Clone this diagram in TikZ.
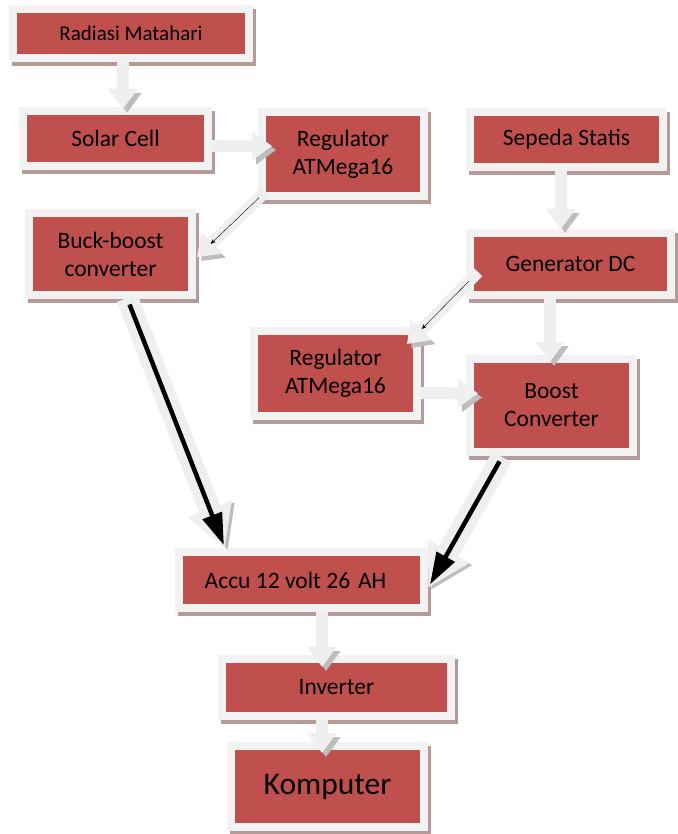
\documentclass[tikz,border=0pt]{standalone}
\usepackage{fontspec}
\setmainfont{Carlito}
\usetikzlibrary{arrows.meta,calc}

\definecolor{boxred}{HTML}{C0504D}
\definecolor{boxframe}{HTML}{F2F2F2}
\definecolor{boxshadow}{HTML}{B59A9A}
\definecolor{arrowlight}{HTML}{EFEFEF}
\definecolor{arrowshade}{HTML}{BDBDBD}

\begin{document}
\begin{tikzpicture}[x=1pt,y=-1pt]
\tikzset{
  blockbox/.style={rectangle,fill=boxred,draw=boxframe,line width=8pt,outer sep=0pt,inner sep=2pt,
    align=center,font=\fontsize{23.5}{28}\selectfont,
    preaction={draw=boxshadow,fill=boxshadow,transform canvas={shift={(3pt,-4pt)}}}},
  blockarrow/.style={draw=arrowlight,line width=12pt,-{Triangle[length=20pt,width=28pt]},
    preaction={draw=arrowshade,-{Triangle[length=20pt,width=28pt]},transform canvas={shift={(4pt,-4pt)}}}},
  hollowarrow/.style={draw=arrowlight,line width=22pt,-{Triangle[length=42pt,width=44pt]},
    preaction={draw=arrowshade,-{Triangle[length=42pt,width=44pt]},transform canvas={shift={(3pt,-2pt)}}}},
  powerarrow/.style={draw=black,line width=4.5pt,-{Triangle[length=32pt,width=20pt]}},
  thinarrow/.style={draw=black,line width=0.4pt,-{Stealth[length=5pt,width=4pt]}}
}
\useasboundingbox (0,0) rectangle (677,834);
% blocks
\node[blockbox,minimum width=236pt,minimum height=49pt,font=\fontsize{21}{25}\selectfont] (n_rad) at (131,33.5) {Radiasi Matahari};
\node[blockbox,minimum width=185pt,minimum height=55pt] (n_solar) at (115.5,138.5) {Solar Cell};
\node[blockbox,minimum width=162pt,minimum height=84pt] (n_regA) at (343,154) {Regulator\\ATMega16};
\node[blockbox,minimum width=193pt,minimum height=55pt] (n_sepeda) at (566.5,139.5) {Sepeda Statis};
\node[blockbox,minimum width=163pt,minimum height=82pt] (n_buck) at (110.5,254) {Buck-boost\\converter};
\node[blockbox,minimum width=201pt,minimum height=62pt] (n_gen) at (570.5,264) {Generator DC};
\node[blockbox,minimum width=163pt,minimum height=85pt] (n_regB) at (335.5,373.5) {Regulator\\ATMega16};
\node[blockbox,minimum width=163pt,minimum height=93pt] (n_boost) at (551.5,405.5) {Boost\\Converter};
\node[blockbox,minimum width=245pt,minimum height=56pt] (n_accu) at (301.5,580) {Accu 12 volt 26\,\,AH\hspace*{12pt}};
\node[blockbox,minimum width=229pt,minimum height=57pt] (n_inv) at (336.5,687.5) {Inverter};
\node[blockbox,minimum width=193pt,minimum height=81pt,font=\fontsize{31.5}{38}\selectfont] (n_komp) at (327.5,786.5) {Komputer};
% block arrows
\draw[blockarrow] ($(n_rad.south)+(-8,4)$) -- ($(n_solar.north)+(7.5,-2)$);
\draw[blockarrow] ($(n_solar.east)+(4,7.5)$) -- ($(n_regA.west)+(10,-8)$);
\draw[blockarrow] ($(n_regA.south west)+(2,-3)$) -- ($(n_buck.east)+(5,3)$);
\draw[thinarrow,shorten <=7pt,shorten >=19pt] ($(n_regA.south west)+(2,-3)$) -- ($(n_buck.east)+(5,3)$);
\draw[blockarrow] ($(n_sepeda.south)+(-5.5,4)$) -- ($(n_gen.north)+(-9.5,-4)$);
\draw[blockarrow] ($(n_gen.west)+(8,8)$) -- ($(n_regB.north east)+(-10,13)$);
\draw[thinarrow,shorten <=13pt,shorten >=21pt] ($(n_gen.west)+(8,8)$) -- ($(n_regB.north east)+(-10,13)$);
\draw[blockarrow] ($(n_gen.south)+(-20.5,3)$) -- ($(n_boost.north)+(-1.5,3)$);
\draw[blockarrow] ($(n_regB.east)+(4,19.5)$) -- ($(n_boost.west)+(8,-12)$);
\draw[blockarrow] ($(n_accu.south)+(20.5,4)$) -- ($(n_inv.north)+(-14.5,8)$);
\draw[blockarrow] ($(n_inv.south)+(-14.5,4)$) -- ($(n_komp.north)+(-5.5,7)$);
% power lines into the accu
\draw[hollowarrow] ($(n_buck.south)+(16.5,3)$) -- ($(n_accu.north west)+(46,-4)$);
\draw[powerarrow,shorten <=7pt,shorten >=3pt] ($(n_buck.south)+(16.5,3)$) -- ($(n_accu.north west)+(46,-4)$);
\draw[hollowarrow] ($(n_boost.south)+(-49.5,5)$) -- ($(n_accu.east)+(4,8)$);
\draw[powerarrow,shorten <=5pt,shorten >=4pt] ($(n_boost.south)+(-49.5,5)$) -- ($(n_accu.east)+(4,8)$);
\end{tikzpicture}
\end{document}
